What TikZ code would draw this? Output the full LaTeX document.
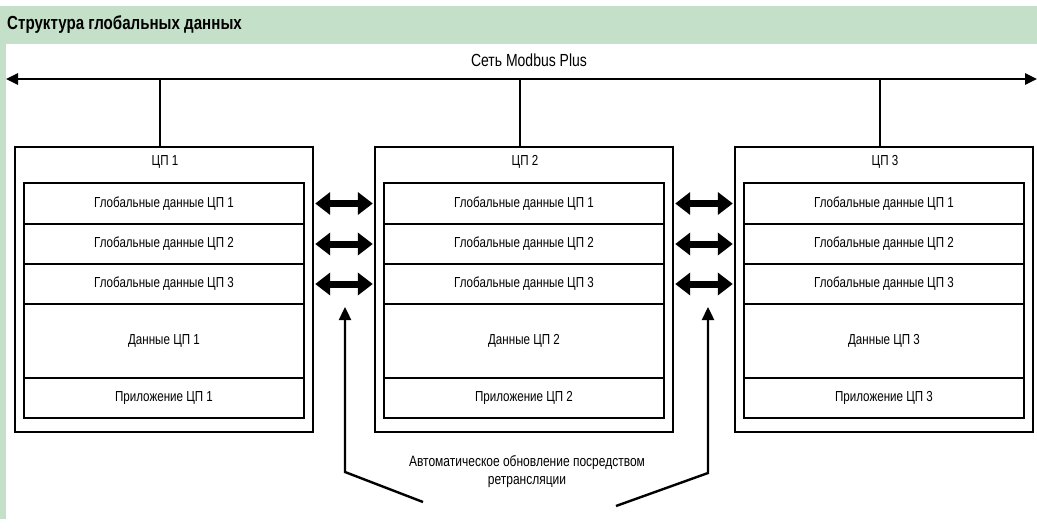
\documentclass[tikz,border=0pt]{standalone}
\usepackage{fontspec}
\setmainfont{Liberation Sans}[FakeStretch=0.8]
\usetikzlibrary{arrows.meta}
\definecolor{hdrgreen}{RGB}{196,224,200}
\tikzset{
  outerbox/.style={draw, line width=2.4pt, minimum width=298pt, minimum height=285pt, inner sep=0pt},
  rowbox/.style={draw, line width=2.4pt, minimum width=280pt, inner sep=0pt, font=\fontsize{14.5}{16}\selectfont},
  lbl/.style={inner sep=0pt, font=\fontsize{14.5}{16}\selectfont},
  bigarrow/.style={line width=7pt, {Triangle[width=22pt,length=15pt]}-{Triangle[width=22pt,length=15pt]}},
  netline/.style={line width=2.6pt, {Triangle[width=11pt,length=12pt]}-{Triangle[width=11pt,length=12pt]}},
  thinline/.style={line width=2.4pt},
  uparrow/.style={line width=2.4pt, -{Triangle[width=12pt,length=13pt]}},
}
\begin{document}
\begin{tikzpicture}[x=1pt,y=-1pt]
\useasboundingbox (0,0) rectangle (1037,528);
\fill[hdrgreen] (0,6) rectangle (1037,44);
\fill[hdrgreen] (0,44) rectangle (6,519);
\node[anchor=west, inner sep=0pt, font=\bfseries\fontsize{18.9}{20}\selectfont] (title) at (7,25) {Структура глобальных данных};
% network
\coordinate (netL) at (6,79);
\coordinate (netR) at (1037,79);
\draw[netline] (netL) -- (netR);
\node[lbl, font=\fontsize{17.5}{19}\selectfont] (netlbl) at (529,60) {Сеть Modbus Plus};
% CPUs
\foreach \i/\cx in {1/164,2/524,3/884}{
  \node[outerbox] (cpu\i) at (\cx,289.5) {};
  \node[lbl] (cpul\i) at (\cx+1,162) {ЦП \i};
  \node[rowbox, minimum height=41pt] (r\i a) at (\cx,203.5) {Глобальные данные ЦП 1};
  \node[rowbox, minimum height=40pt] (r\i b) at (\cx,244) {Глобальные данные ЦП 2};
  \node[rowbox, minimum height=40pt] (r\i c) at (\cx,284) {Глобальные данные ЦП 3};
  \node[rowbox, minimum height=74pt] (r\i d) at (\cx,341) {Данные ЦП \i};
  \node[rowbox, minimum height=40pt] (r\i e) at (\cx,398) {Приложение ЦП \i};
  \coordinate (tap\i) at (\cx-4,79);
  \draw[thinline] (tap\i) -- (tap\i |- cpu\i.north);
}
% double arrows
\foreach \r in {a,b,c}{
  \draw[bigarrow] ([xshift=1pt]cpu1.east |- r1\r.center) -- ([xshift=-1pt]cpu2.west |- r1\r.center);
  \draw[bigarrow] ([xshift=1pt]cpu2.east |- r2\r.center) -- ([xshift=-1pt]cpu3.west |- r2\r.center);
}
% note
\node[lbl, align=center, font=\fontsize{15}{18}\selectfont] (note) at (527,472) {Автоматическое обновление посредством\\ретрансляции};
\coordinate (la) at (423,502);
\coordinate (lb) at (345,472);
\coordinate (lt) at (345,307);
\coordinate (ra) at (616,506);
\coordinate (rb) at (708,473);
\coordinate (rt) at (708,307);
\draw[uparrow] (la) -- (lb) -- (lt);
\draw[uparrow] (ra) -- (rb) -- (rt);
\end{tikzpicture}
\end{document}
